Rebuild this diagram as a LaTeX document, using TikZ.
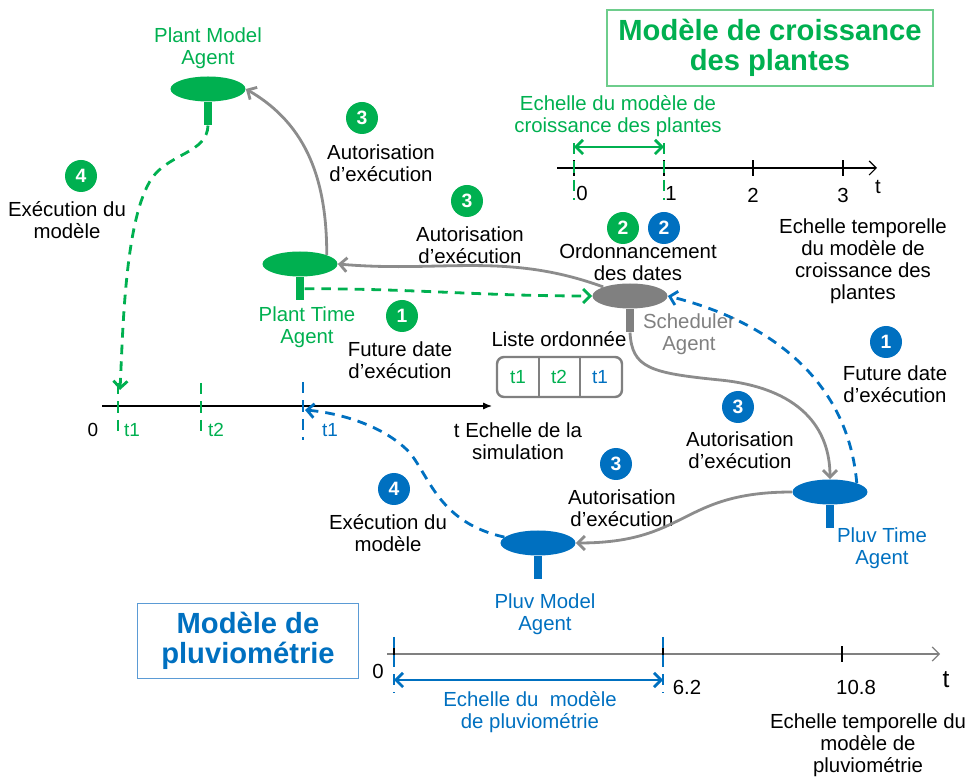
\documentclass[tikz,border=0pt]{standalone}
\usepackage{fontspec}
\setmainfont{Liberation Sans}
\usepackage{tikz}
\usetikzlibrary{arrows.meta,positioning,shapes.geometric}

\definecolor{plantgreen}{RGB}{0,176,80}
\definecolor{pluvblue}{RGB}{0,112,192}
\definecolor{schedgray}{RGB}{128,128,128}
\definecolor{linkgray}{RGB}{140,140,140}
\definecolor{boxgreen}{RGB}{110,205,140}
\definecolor{boxblue}{RGB}{91,155,213}

\begin{document}
\begin{tikzpicture}[x=0.02cm,y=0.02cm,
  every node/.style={font=\fontsize{11.6}{12.6}\selectfont, align=center},
  agent/.style={ellipse, inner sep=0pt, minimum width=1.5cm, minimum height=0.5cm},
  agentfoot/.style={rectangle, inner sep=0pt, minimum width=0.17cm, minimum height=0.46cm},
  numc/.style={circle, inner sep=0pt, minimum size=0.64cm, text=white, font=\fontsize{11}{12}\selectfont\bfseries},
  titlebox/.style={draw, line width=0.8pt, minimum width=6.52cm, minimum height=1.52cm, font=\fontsize{16.6}{17.4}\selectfont\bfseries},
  small/.style={font=\fontsize{10.8}{12}\selectfont},
  link/.style={draw=linkgray, line width=1.6pt, -{Straight Barb[length=4pt,width=8pt]}},
  dlink/.style={line width=1.6pt, dash pattern=on 5.5pt off 4pt, -{Straight Barb[length=4pt,width=8pt]}},
  tmark/.style={line width=1.6pt, dash pattern=on 6.5pt off 4pt},
  scalearrow/.style={line width=1.6pt, {Straight Barb[length=4pt,width=8pt]}-{Straight Barb[length=4pt,width=8pt]}}]

\useasboundingbox (0,0) rectangle (968,778);

\node[titlebox, draw=boxgreen, text=plantgreen] (mc) at (770,730) {Modèle de croissance\\des plantes};
\node[titlebox, draw=boxblue, text=pluvblue, minimum width=4.42cm, minimum height=1.5cm] (mp) at (248,137) {Modèle de\\pluviométrie};

% agents
\node[agent, fill=plantgreen] (pm) at (208,689) {};
\node[agentfoot, fill=plantgreen, below=0pt of pm] (pmf) {};
\node[text=plantgreen] (pml) at (208,730) {Plant Model\\Agent};

\node[agent, fill=plantgreen] (pt) at (300,514) {};
\node[agentfoot, fill=plantgreen, below=0pt of pt] (ptf) {};
\node[text=plantgreen] (ptl) at (307,451) {Plant Time\\Agent};

\node[agent, fill=schedgray] (sa) at (630,482) {};
\node[agentfoot, fill=schedgray, below=0pt of sa] (saf) {};
\node[text=schedgray] (sal) at (689,444) {Scheduler\\Agent};

\node[agent, fill=pluvblue] (vt) at (830,286) {};
\node[agentfoot, fill=pluvblue, below=0pt of vt] (vtf) {};
\node[text=pluvblue] (vtl) at (882,230) {Pluv Time\\Agent};

\node[agent, fill=pluvblue] (vm) at (538,235) {};
\node[agentfoot, fill=pluvblue, below=0pt of vm] (vmf) {};
\node[text=pluvblue] (vml) at (545,164) {Pluv Model\\Agent};

% steps
\node[numc, fill=plantgreen] (c3a) at (362,660) {3};
\node (l3a) at (381,615) {Autorisation\\d’exécution};
\node[numc, fill=plantgreen] (c4a) at (81,602) {4};
\node (l4a) at (67,558) {Exécution du\\modèle};
\node[numc, fill=plantgreen] (c3b) at (467,577) {3};
\node (l3b) at (470,533) {Autorisation\\d’exécution};
\node[numc, fill=plantgreen] (c1a) at (402,462) {1};
\node (l1a) at (400,418) {Future date\\d’exécution};
\node[numc, fill=plantgreen] (c2a) at (623,550) {2};
\node[numc, fill=pluvblue] (c2b) at (664,550) {2};
\node (l2) at (638,516) {Ordonnancement\\des dates};
\node[numc, fill=pluvblue] (c1b) at (886,436) {1};
\node (l1b) at (895,394) {Future date\\d’exécution};
\node[numc, fill=pluvblue] (c3c) at (738,371) {3};
\node (l3c) at (740,328) {Autorisation\\d’exécution};
\node[numc, fill=pluvblue] (c3d) at (616,314) {3};
\node (l3d) at (622,270) {Autorisation\\d’exécution};
\node[numc, fill=pluvblue] (c4b) at (394,289) {4};
\node (l4b) at (388,245) {Exécution du\\modèle};

% plant time scale
\draw[line width=0.7pt, -{Straight Barb[length=4pt,width=8pt]}] (557,610) -- (877,610);
\foreach \x in {574,664,753,843}
  \draw[line width=0.7pt] (\x,602) -- (\x,618);
\draw[tmark, plantgreen] (574,635) -- (574,578);
\draw[tmark, plantgreen] (664,635) -- (664,578);
\coordinate (p0) at (574,631);
\coordinate (p1) at (664,631);
\draw[scalearrow, plantgreen] (p0) -- (p1);
\node (a0) at (582,585) {0};
\node (a1) at (671,585) {1};
\node (a2) at (753,583) {2};
\node (a3) at (843,583) {3};
\node (at) at (878,591) {t};
\node[text=plantgreen] (asc) at (618,662) {Echelle du modèle de\\croissance des plantes};
\node (atl) at (863,517) {Echelle temporelle\\du modèle de\\croissance des\\plantes};

% simulation scale
\draw[line width=0.7pt, -{Latex[length=5pt,width=4pt]}] (102,372) -- (492,372);
\draw[tmark, plantgreen] (118,395) -- (118,340);
\draw[tmark, plantgreen] (201,395) -- (201,341);
\draw[tmark, pluvblue] (303,396) -- (303,338);
\coordinate (gt1) at (120,388);
\coordinate (bt1) at (305,368);
\node[small] (s0) at (93,348) {0};
\node[small, text=plantgreen] (st1) at (132,348) {t1};
\node[small, text=plantgreen] (st2) at (216,348) {t2};
\node[small, text=pluvblue] (st3) at (330,348) {t1};
\node (sl) at (518,337) {t Echelle de la\\simulation};

% ordered list
\node (ll) at (559,439) {Liste ordonnée};
\draw[schedgray, line width=1.4pt, rounded corners=4pt] (497,381) rectangle (622,421);
\draw[schedgray, line width=0.9pt] (539,381) -- (539,421);
\draw[schedgray, line width=0.9pt] (580,381) -- (580,421);
\node[small, text=plantgreen] (lt1) at (518,401) {t1};
\node[small, text=plantgreen] (lt2) at (559,401) {t2};
\node[small, text=pluvblue] (lt3) at (600,401) {t1};

% pluvio scale
\draw[schedgray, line width=0.7pt, -{Straight Barb[length=4pt,width=8pt]}] (387,124) -- (940,124);
\foreach \x in {394,663,842}
  \draw[line width=0.7pt] (\x,116) -- (\x,132);
\draw[tmark, pluvblue] (394,141) -- (394,85);
\draw[tmark, pluvblue] (663,141) -- (663,85);
\coordinate (q0) at (394,98);
\coordinate (q1) at (663,98);
\draw[scalearrow, pluvblue] (q0) -- (q1);
\node (b0) at (378,107) {0};
\node (b1) at (687,91) {6.2};
\node (b2) at (856,91) {10.8};
\node[font=\fontsize{14}{15}\selectfont] (bt) at (946,98) {t};
\node[text=pluvblue] (bsc) at (530,66) {Echelle du\ \ modèle\\de pluviométrie};
\node (btl) at (868,33) {Echelle temporelle du\\modèle de\\pluviométrie};

% connectors
\draw[link] (pt.north east) to[out=90, in=-30] (pm.east);
\draw[link] (sa.north west) to[out=160, in=-5] (pt.east);
\draw[dlink, plantgreen] (ptf.east) to[out=0, in=180] (sa.west);
\draw[link] (saf.south) .. controls (632,410) and (650,405) .. (720,398) .. controls (800,390) and (830,350) .. (vt.north);
\draw[dlink, pluvblue] (vt.north east) to[out=95, in=-14] (sa.east);
\draw[link] (vt.west) to[out=180, in=0, looseness=1.3] (vm.east);
\draw[dlink, pluvblue] (vm.170) .. controls (440,255) and (430,300) .. (410,325) .. controls (385,352) and (340,365) .. (bt1);
\draw[dlink, plantgreen] (pmf.south) .. controls (207,625) and (170,625) .. (152,600) .. controls (125,560) and (123,450) .. (gt1);

\end{tikzpicture}
\end{document}
